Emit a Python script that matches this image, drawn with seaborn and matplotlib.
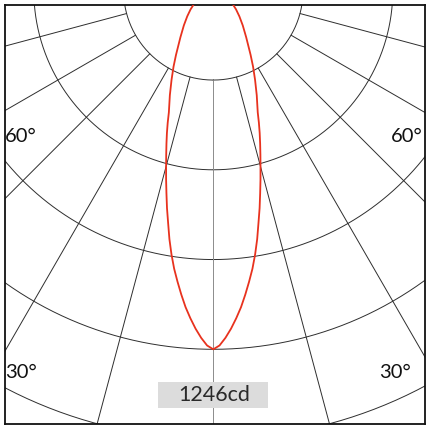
import numpy as np
import pandas as pd
import seaborn as sns
import matplotlib.pyplot as plt
from matplotlib.patches import Rectangle

# Photometric curve: angle from nadir (deg) and luminous intensity (cd), symmetric
angles_deg = [0, 1, 2, 3, 4, 5, 6, 7, 8, 9, 10, 11, 12, 13, 14, 15, 16, 17, 18, 19, 20,
              22.5, 25, 27.5, 30, 35, 40, 45, 50, 55, 60, 70, 80, 90]
intensity_cd = [1246, 1233, 1207, 1176, 1141, 1104, 1062, 1019, 976, 928, 877, 822,
                773, 723, 677, 633, 593, 556, 521, 486, 451,
                394, 343, 299, 259, 199, 159, 128, 103, 81, 62, 37, 19, 0]
max_cd = 1246
ring_count = 5
spoke_step = 15
angle_labels = ["60°", "30°"]
cd_label = f"{max_cd}cd"

sns.set_style("white")
plt.rcParams["font.family"] = ["Lato", "DejaVu Sans"]

# Build the symmetric curve (left side mirrored)
ang = np.array(angles_deg, dtype=float)
val = np.array(intensity_cd, dtype=float)
full_ang = np.concatenate([-ang[::-1], ang[1:]])
full_val = np.concatenate([val[::-1], val[1:]])
th = np.radians(full_ang)
df = pd.DataFrame({"x": full_val * np.sin(th), "y": -full_val * np.cos(th)})

fig = plt.figure(figsize=(4.3, 4.3), dpi=100)
ax = fig.add_axes([5 / 430, 6 / 430, 420 / 430, 419 / 430])

ring = max_cd / 4
grid_col = "#2e2e2e"

# Rings
t = np.linspace(0, 2 * np.pi, 721)
for k in range(1, ring_count + 1):
    ax.plot(k * ring * np.sin(t), -k * ring * np.cos(t), color=grid_col, lw=0.7, zorder=1)

# Spokes starting at the first ring
for a in range(0, 360, spoke_step):
    r = np.radians(a)
    col = "#8c8c8c" if a == 0 else grid_col
    ax.plot([ring * np.sin(r), 6 * ring * np.sin(r)],
            [-ring * np.cos(r), -6 * ring * np.cos(r)], color=col, lw=0.7, zorder=1)

sns.lineplot(data=df, x="x", y="y", sort=False, estimator=None, ax=ax,
             color="#e8321e", lw=1.3, zorder=3)

px = ring / 89.75
ax.set_xlim(-208.3 * px, 211.7 * px)
ax.set_ylim(-433.7 * px, -14.7 * px)
ax.set_aspect("auto")
ax.set_xticks([])
ax.set_yticks([])
ax.set_xlabel("")
ax.set_ylabel("")
for s in ax.spines.values():
    s.set_visible(True)
    s.set_color("#111111")
    s.set_linewidth(1.3)

# Angle labels
lab_kw = dict(va="center", fontsize=14.5, color="#111111")
fig.text(5 / 430, 1 - 137 / 430, angle_labels[0], ha="left", **lab_kw)
fig.text(423 / 430, 1 - 137 / 430, angle_labels[0], ha="right", **lab_kw)
fig.text(5 / 430, 1 - 372 / 430, angle_labels[1], ha="left", **lab_kw)
fig.text(411 / 430, 1 - 372 / 430, angle_labels[1], ha="right", **lab_kw)

# Max intensity label box
ax.add_patch(Rectangle((158 / 430, 1 - 408 / 430), 110 / 430, 26 / 430,
                       transform=fig.transFigure, facecolor="#dcdcdc",
                       edgecolor="none", zorder=5))
fig.text(214 / 430, 1 - 395 / 430, cd_label, ha="center", va="center",
         fontsize=15.5, color="#2a2a2a", zorder=6)

fig.savefig("out.png", dpi=100)
